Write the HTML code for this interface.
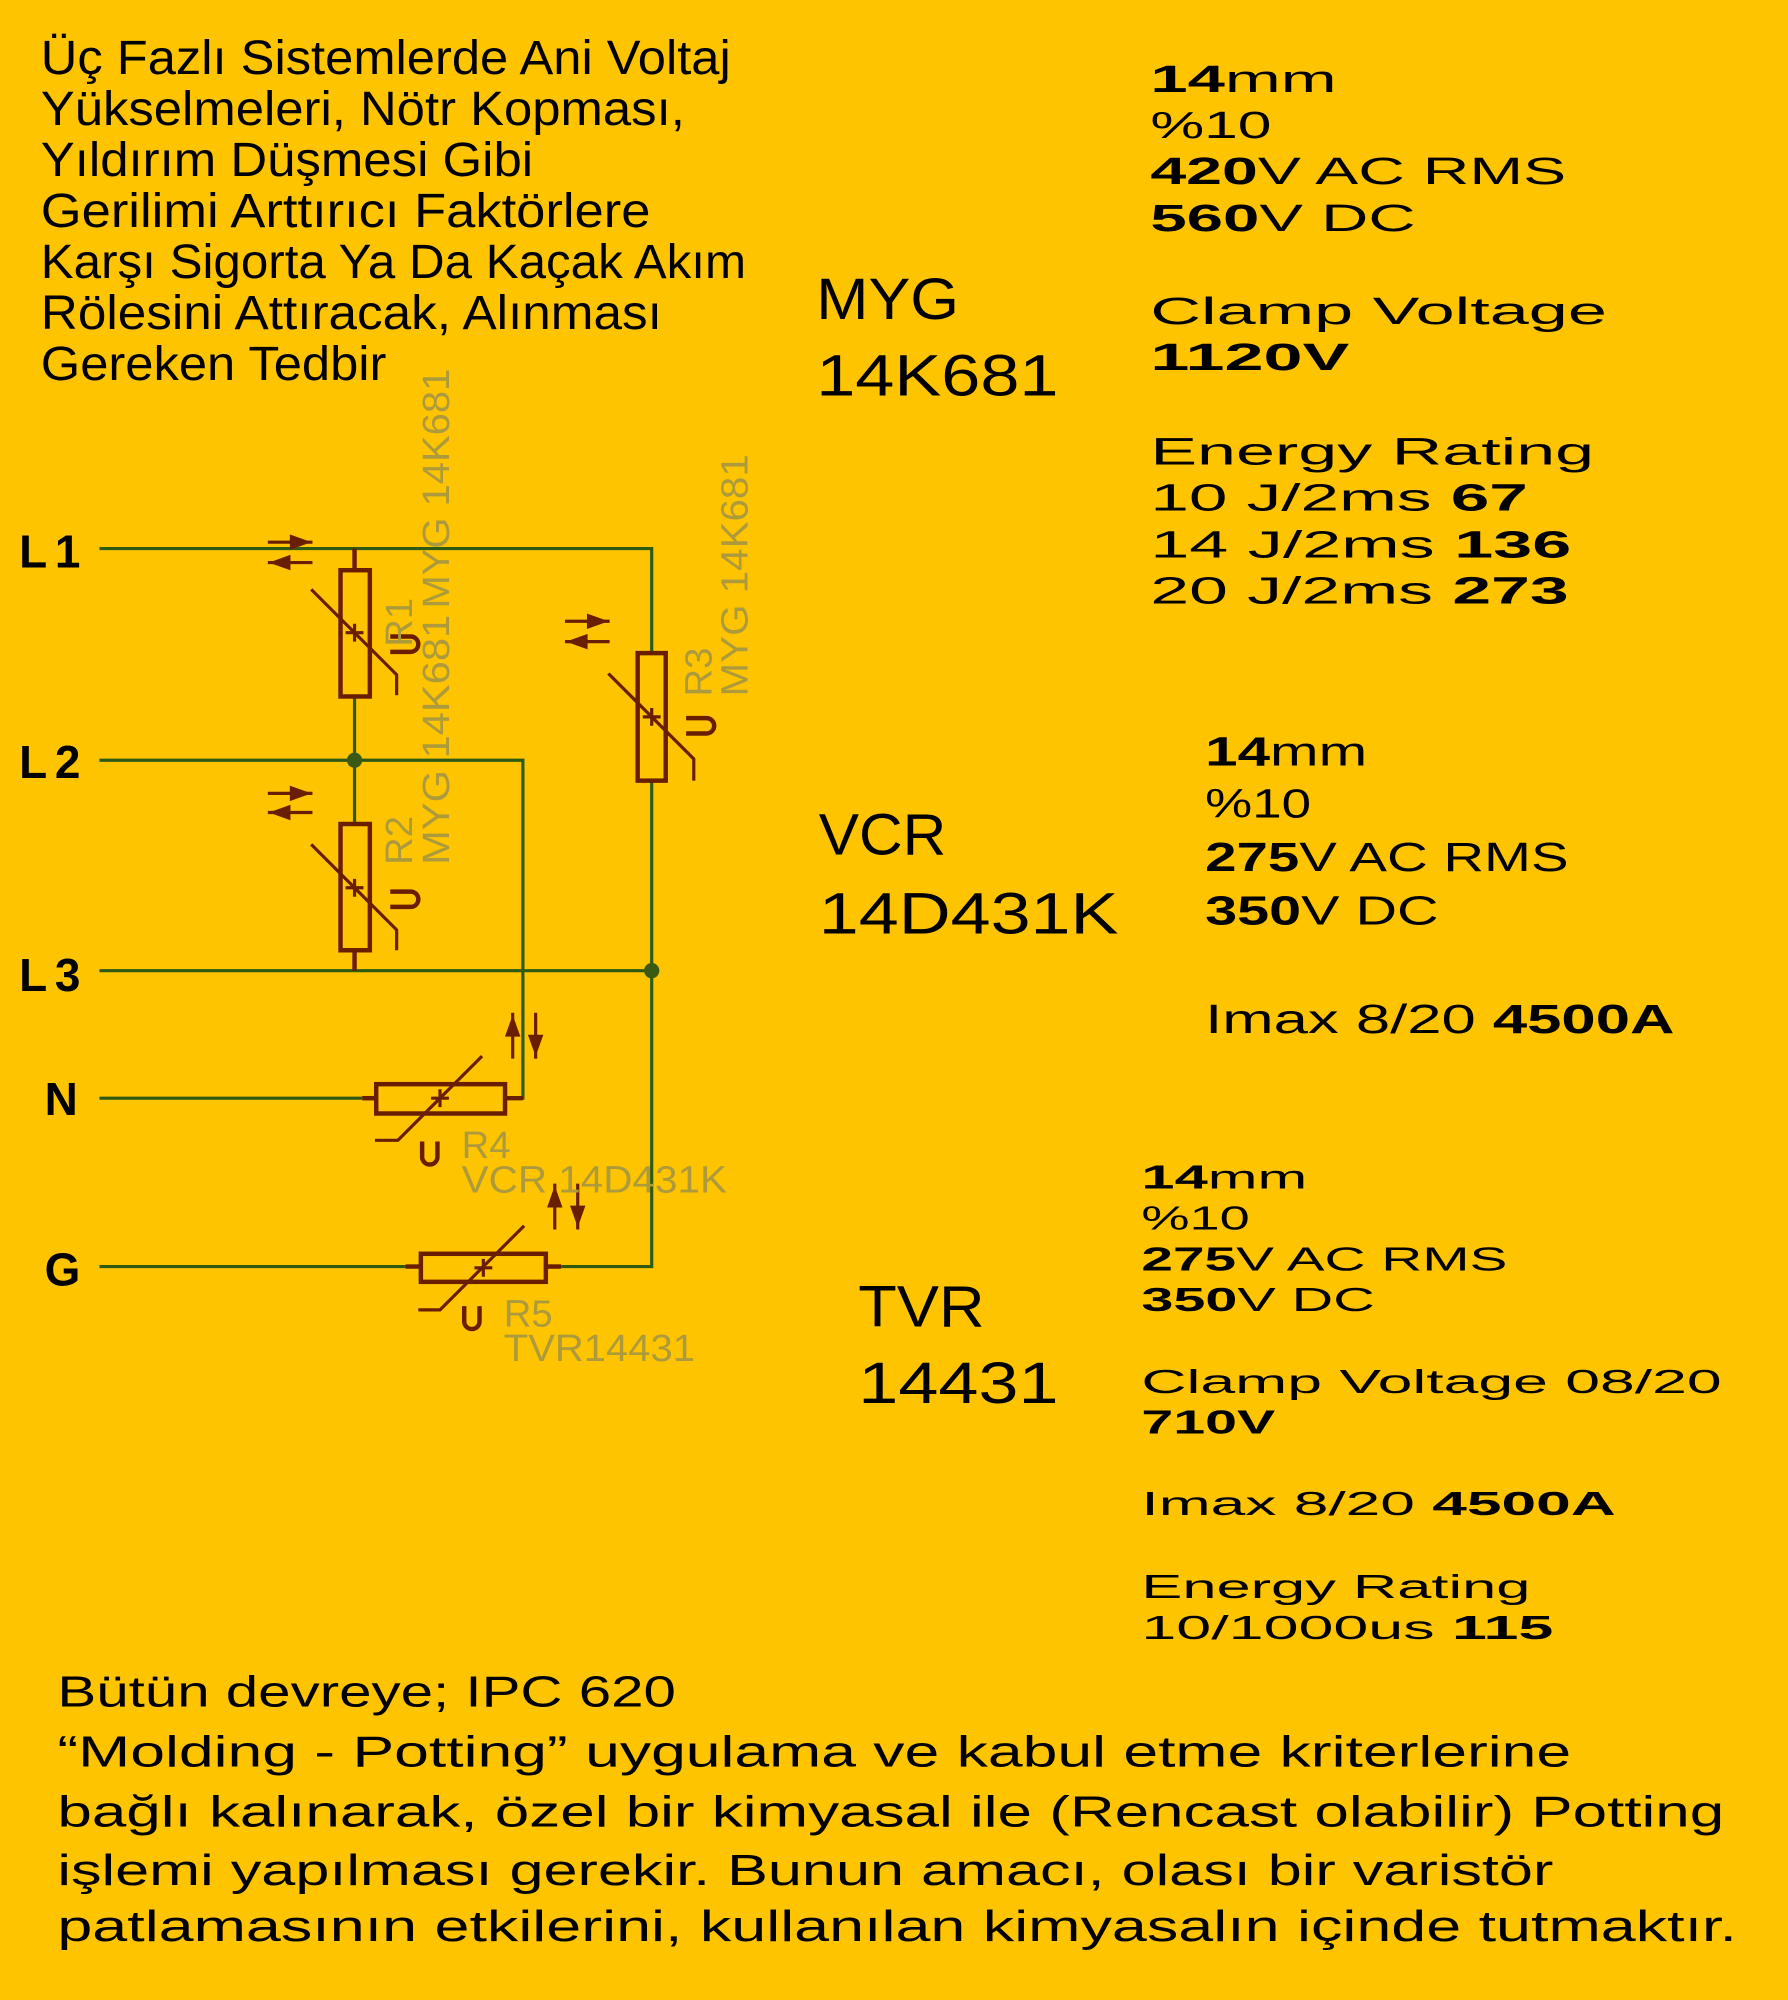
<!DOCTYPE html>
<html><head><meta charset="utf-8"><style>
html,body{margin:0;padding:0;background:#FFC400;}
svg{display:block}
text{font-family:"Liberation Sans","DejaVu Sans",sans-serif;fill:#000}
.lab text{fill:#ad9a3c;font-size:30px}
.w{stroke:#2e5a14;stroke-width:2.5;fill:none}
.b{stroke:#6a1e00;stroke-width:3.5;fill:none}
.bt{stroke:#6a1e00;stroke-width:2.5;fill:none}
.ah{fill:#6a1e00;stroke:#6a1e00;stroke-width:1.5}
</style></head><body>
<svg width="1788" height="2000" viewBox="0 0 1402 1568" xmlns="http://www.w3.org/2000/svg">
<rect width="1402" height="1568" fill="#FFC400"/>
<!-- title -->
<g font-size="38">
<text x="32" y="58" textLength="541" lengthAdjust="spacingAndGlyphs">Üç Fazlı Sistemlerde Ani Voltaj</text>
<text x="32" y="98" textLength="505" lengthAdjust="spacingAndGlyphs">Yükselmeleri, Nötr Kopması,</text>
<text x="32" y="138" textLength="386" lengthAdjust="spacingAndGlyphs">Yıldırım Düşmesi Gibi</text>
<text x="32" y="178" textLength="478" lengthAdjust="spacingAndGlyphs">Gerilimi Arttırıcı Faktörlere</text>
<text x="32" y="218" textLength="553" lengthAdjust="spacingAndGlyphs">Karşı Sigorta Ya Da Kaçak Akım</text>
<text x="32" y="258" textLength="487" lengthAdjust="spacingAndGlyphs">Rölesini Attıracak, Alınması</text>
<text x="32" y="298" textLength="271" lengthAdjust="spacingAndGlyphs">Gereken Tedbir</text>
</g>
<!-- MYG -->
<text x="640" y="250" font-size="46" textLength="112" lengthAdjust="spacingAndGlyphs">MYG</text>
<text x="640" y="310" font-size="46" textLength="190" lengthAdjust="spacingAndGlyphs">14K681</text>
<g font-size="30">
<text x="902" y="72" textLength="146" lengthAdjust="spacingAndGlyphs"><tspan font-weight="bold">14</tspan>mm</text>
<text x="902" y="108" textLength="95" lengthAdjust="spacingAndGlyphs">%10</text>
<text x="902" y="144" textLength="326" lengthAdjust="spacingAndGlyphs"><tspan font-weight="bold">420</tspan>V AC RMS</text>
<text x="902" y="181" textLength="208" lengthAdjust="spacingAndGlyphs"><tspan font-weight="bold">560</tspan>V DC</text>
<text x="902" y="254" textLength="358" lengthAdjust="spacingAndGlyphs">Clamp Voltage</text>
<text x="902" y="290" textLength="156" lengthAdjust="spacingAndGlyphs" font-weight="bold">1120V</text>
<text x="902" y="364" textLength="348" lengthAdjust="spacingAndGlyphs">Energy Rating</text>
<text x="902" y="400" textLength="296" lengthAdjust="spacingAndGlyphs">10 J/2ms <tspan font-weight="bold">67</tspan></text>
<text x="902" y="437" textLength="330" lengthAdjust="spacingAndGlyphs">14 J/2ms <tspan font-weight="bold">136</tspan></text>
<text x="902" y="473" textLength="328" lengthAdjust="spacingAndGlyphs">20 J/2ms <tspan font-weight="bold">273</tspan></text>
</g>
<!-- VCR -->
<text x="642" y="670" font-size="46" textLength="100" lengthAdjust="spacingAndGlyphs">VCR</text>
<text x="642" y="732" font-size="46" textLength="235" lengthAdjust="spacingAndGlyphs">14D431K</text>
<g font-size="32">
<text x="945" y="600" textLength="127" lengthAdjust="spacingAndGlyphs"><tspan font-weight="bold">14</tspan>mm</text>
<text x="945" y="641" textLength="83" lengthAdjust="spacingAndGlyphs">%10</text>
<text x="945" y="683" textLength="285" lengthAdjust="spacingAndGlyphs"><tspan font-weight="bold">275</tspan>V AC RMS</text>
<text x="945" y="725" textLength="183" lengthAdjust="spacingAndGlyphs"><tspan font-weight="bold">350</tspan>V DC</text>
<text x="945" y="810" textLength="368" lengthAdjust="spacingAndGlyphs">Imax 8/20 <tspan font-weight="bold">4500A</tspan></text>
</g>
<!-- TVR -->
<text x="673" y="1040" font-size="46" textLength="99" lengthAdjust="spacingAndGlyphs">TVR</text>
<text x="673" y="1100" font-size="46" textLength="157" lengthAdjust="spacingAndGlyphs">14431</text>
<g font-size="26">
<text x="895" y="932" textLength="130" lengthAdjust="spacingAndGlyphs"><tspan font-weight="bold">14</tspan>mm</text>
<text x="895" y="964" textLength="85" lengthAdjust="spacingAndGlyphs">%10</text>
<text x="895" y="996" textLength="287" lengthAdjust="spacingAndGlyphs"><tspan font-weight="bold">275</tspan>V AC RMS</text>
<text x="895" y="1028" textLength="183" lengthAdjust="spacingAndGlyphs"><tspan font-weight="bold">350</tspan>V DC</text>
<text x="895" y="1092" textLength="455" lengthAdjust="spacingAndGlyphs">Clamp Voltage 08/20</text>
<text x="895" y="1124" textLength="105" lengthAdjust="spacingAndGlyphs" font-weight="bold">710V</text>
<text x="895" y="1188" textLength="372" lengthAdjust="spacingAndGlyphs">Imax 8/20 <tspan font-weight="bold">4500A</tspan></text>
<text x="895" y="1253" textLength="305" lengthAdjust="spacingAndGlyphs">Energy Rating</text>
<text x="895" y="1285" textLength="323" lengthAdjust="spacingAndGlyphs">10/1000us <tspan font-weight="bold">115</tspan></text>
</g>
<!-- bottom paragraph -->
<g font-size="34">
<text x="45" y="1338" textLength="485" lengthAdjust="spacingAndGlyphs">Bütün devreye; IPC 620</text>
<text x="45" y="1385" textLength="1187" lengthAdjust="spacingAndGlyphs">“Molding - Potting” uygulama ve kabul etme kriterlerine</text>
<text x="45" y="1432" textLength="1307" lengthAdjust="spacingAndGlyphs">bağlı kalınarak, özel bir kimyasal ile (Rencast olabilir) Potting</text>
<text x="45" y="1478" textLength="1173" lengthAdjust="spacingAndGlyphs">işlemi yapılması gerekir. Bunun amacı, olası bir varistör</text>
<text x="45" y="1522" textLength="1317" lengthAdjust="spacingAndGlyphs">patlamasının etkilerini, kullanılan kimyasalın içinde tutmaktır.</text>
</g>
<!-- circuit labels -->
<g font-size="36" font-weight="bold">
<text x="15" y="445" textLength="48" lengthAdjust="spacing">L1</text>
<text x="15" y="610" textLength="48" lengthAdjust="spacing">L2</text>
<text x="15" y="777" textLength="48" lengthAdjust="spacing">L3</text>
<text x="35" y="874">N</text>
<text x="35" y="1008">G</text>
</g>
<!-- wires -->
<polyline class="w" points="78,430 511,430 511,512"/>
<polyline class="w" points="511,612 511,993 440,993"/>
<polyline class="w" points="78,596 410,596 410,861 398,861"/>
<line class="w" x1="78" y1="761" x2="511" y2="761"/>
<line class="w" x1="278" y1="546" x2="278" y2="646"/>
<line class="w" x1="78" y1="861" x2="284" y2="861"/>
<line class="w" x1="78" y1="993" x2="318" y2="993"/>
<circle cx="278" cy="596" r="6" fill="#3a5a14"/>
<circle cx="511" cy="761" r="6" fill="#3a5a14"/>
<!-- R1 -->
<g>
<line class="b" x1="278" y1="430" x2="278" y2="447"/>
<rect class="b" x="267" y="447" width="23" height="99"/>
<polyline class="bt" points="244,462 311,529 311,545"/>
<path class="bt" d="M271 496h14M278 489v14"/>
<path class="b" d="M306 499h16a6 6 0 0 1 0 12h-16"/>
<path class="bt" d="M210 425h35M210 441h35"/>
<path class="ah" d="M228 420l14 5l-14 5z M227 436l-14 5l14 5z"/>
</g>
<!-- R2 -->
<g>
<line class="b" x1="278" y1="746" x2="278" y2="761"/>
<rect class="b" x="267" y="646" width="23" height="99"/>
<polyline class="bt" points="244,662 311,729 311,745"/>
<path class="bt" d="M271 696h14M278 689v14"/>
<path class="b" d="M306 699h16a6 6 0 0 1 0 12h-16"/>
<path class="bt" d="M210 622h35M210 637h35"/>
<path class="ah" d="M228 617l14 5l-14 5z M227 632l-14 5l14 5z"/>
</g>
<!-- R3 -->
<g>
<rect class="b" x="500" y="512" width="22" height="100"/>
<polyline class="bt" points="477,528 544,595 544,612"/>
<path class="bt" d="M504 562h14M511 555v14"/>
<path class="b" d="M538 563h16a6 6 0 0 1 0 12h-16"/>
<path class="bt" d="M443 487h35M443 503h35"/>
<path class="ah" d="M461 482l14 5l-14 5z M460 498l-14 5l14 5z"/>
</g>
<!-- R4 -->
<g>
<line class="b" x1="284" y1="861" x2="295" y2="861"/>
<line class="b" x1="396" y1="861" x2="410" y2="861"/>
<rect class="b" x="295" y="850" width="101" height="23"/>
<polyline class="bt" points="378,828 312,894 294,894"/>
<path class="bt" d="M338 861h14M345 854v14"/>
<path class="b" d="M331 895v12a6 6 0 0 0 12 0v-12"/>
<path class="bt" d="M402 830v-36M420 830v-36"/>
<path class="ah" d="M397 812l5-14l5 14z M415 812l5 14l5-14z"/>
</g>
<!-- R5 -->
<g>
<line class="b" x1="318" y1="993" x2="330" y2="993"/>
<line class="b" x1="428" y1="993" x2="440" y2="993"/>
<rect class="b" x="330" y="983" width="98" height="22"/>
<polyline class="bt" points="411,961 345,1027 328,1027"/>
<path class="bt" d="M372 994h14M379 987v14"/>
<path class="b" d="M364 1024v12a6 6 0 0 0 12 0v-12"/>
<path class="bt" d="M435 964v-36M453 964v-36"/>
<path class="ah" d="M430 946l5-14l5 14z M448 946l5 14l5-14z"/>
</g>
<!-- component labels -->
<g class="lab">
<text transform="translate(323,507) rotate(-90)">R1</text>
<text transform="translate(352,477) rotate(-90)" textLength="188" lengthAdjust="spacingAndGlyphs">MYG 14K681</text>
<text transform="translate(323,678) rotate(-90)">R2</text>
<text transform="translate(352,678) rotate(-90)" textLength="196" lengthAdjust="spacingAndGlyphs">MYG 14K681</text>
<text transform="translate(558,546) rotate(-90)">R3</text>
<text transform="translate(586,546) rotate(-90)" textLength="190" lengthAdjust="spacingAndGlyphs">MYG 14K681</text>
<text x="362" y="908">R4</text>
<text x="362" y="935" textLength="208" lengthAdjust="spacingAndGlyphs">VCR 14D431K</text>
<text x="395" y="1040">R5</text>
<text x="395" y="1067" textLength="150" lengthAdjust="spacingAndGlyphs">TVR14431</text>
</g>
</svg>
</body></html>
